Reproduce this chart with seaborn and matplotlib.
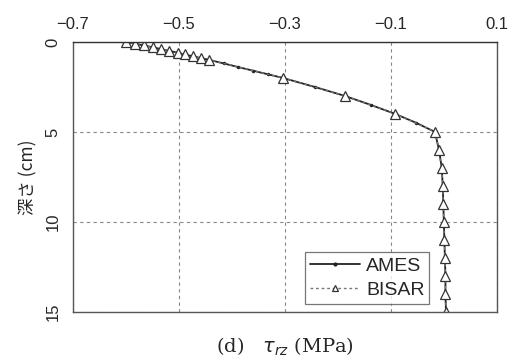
import matplotlib
matplotlib.use("Agg")
import matplotlib.pyplot as plt
import numpy as np
import pandas as pd
import seaborn as sns

# depth (cm) and shear stress tau_rz (MPa)
ames_depth = [0, 0.1, 0.2, 0.3, 0.4, 0.5, 0.6, 0.7, 0.8, 0.9, 1.0, 1.2, 1.4, 1.6, 1.8,
              2.0, 2.5, 3.0, 3.5, 4.0, 4.5, 5.0, 6, 7, 8, 9, 10, 11, 12, 13, 14, 15]
ames_tau = [-0.600, -0.583, -0.566, -0.549, -0.534, -0.519, -0.502, -0.489, -0.474, -0.458, -0.443,
            -0.415, -0.388, -0.360, -0.332, -0.304, -0.244, -0.187, -0.138, -0.092, -0.052, -0.017,
            -0.009, -0.004, -0.002, -0.001, 0.000, 0.001, 0.002, 0.003, 0.003, 0.004]

bisar_depth = [0, 0.1, 0.2, 0.3, 0.4, 0.5, 0.6, 0.7, 0.8, 0.9, 1.0,
               2, 3, 4, 5, 6, 7, 8, 9, 10, 11, 12, 13, 14, 15]
bisar_tau = [-0.600, -0.583, -0.566, -0.549, -0.534, -0.519, -0.502, -0.489, -0.474, -0.458, -0.443,
             -0.304, -0.187, -0.092, -0.016, -0.010, -0.004, -0.002, -0.001, 0.000, 0.001, 0.002,
             0.003, 0.003, 0.004]

x_ticks = [-0.7, -0.5, -0.3, -0.1, 0.1]
y_ticks = [0, 5, 10, 15]

sns.set_style("white")
plt.rcParams['font.family'] = ['Liberation Sans', 'Noto Sans CJK JP', 'DejaVu Sans']

fig = plt.figure(figsize=(5.17, 3.61), dpi=100)
ax = fig.add_axes([0.141, 0.136, 0.820, 0.748])

ames = pd.DataFrame({"tau": ames_tau, "depth": ames_depth})
bisar = pd.DataFrame({"tau": bisar_tau, "depth": bisar_depth})

sns.lineplot(data=ames, x="tau", y="depth", sort=False, estimator=None, ax=ax,
             color="#222222", linewidth=1.3, marker="o", markersize=2.5,
             markeredgewidth=0, label="AMES")
sns.lineplot(data=bisar, x="tau", y="depth", sort=False, estimator=None, ax=ax,
             color="#777777", linewidth=1.0, linestyle=(0, (2, 2)), marker="^",
             markersize=7, markerfacecolor="white", markeredgecolor="#333333",
             markeredgewidth=0.9, label="BISAR")

ax.set_xlim(-0.7, 0.1)
ax.set_ylim(15, 0)
ax.set_xticks(x_ticks)
ax.set_xticklabels([f"{v:.1f}".replace("-", "\u2212") for v in x_ticks])
ax.set_yticks(y_ticks)
ax.xaxis.tick_top()
ax.tick_params(axis="x", length=0, labelsize=12, pad=7)
ax.tick_params(axis="y", length=0, labelsize=12, labelrotation=90, pad=9)
for lab in ax.get_yticklabels():
    lab.set_va("center")

ax.grid(True, color="#888888", linestyle=(0, (3, 3)), linewidth=0.8)
for s in ax.spines.values():
    s.set_color("#555555")
    s.set_linewidth(1.0)
ax.spines["top"].set_color("#333333")

ax.set_ylabel("深さ (cm)", fontsize=12.5, family=["Noto Sans CJK JP", "DejaVu Sans"], labelpad=6)
ax.set_xlabel("(d)   $\\tau_{rz}$ (MPa)", fontsize=14, family="DejaVu Serif", labelpad=17)

leg = ax.legend(loc="lower right", bbox_to_anchor=(0.85, 0.015), fontsize=14,
                frameon=True, fancybox=False, edgecolor="#555555", handlelength=2.6,
                borderpad=0.25, labelspacing=0.35, handletextpad=0.3, borderaxespad=0.2)
leg.get_frame().set_linewidth(0.9)
leg.legend_handles[0].set_markersize(3)
leg.legend_handles[1].set_markersize(5)

fig.savefig("out.png", dpi=100)
